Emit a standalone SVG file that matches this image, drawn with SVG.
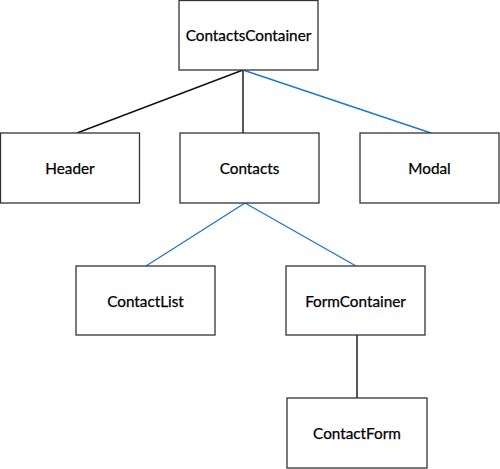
<svg xmlns="http://www.w3.org/2000/svg" width="500" height="469" viewBox="0 0 500 469">
<style>
.box rect{fill:#fff;stroke:#333;stroke-width:1.3}
.box text{font-family:Lato,"Liberation Sans",sans-serif;font-size:15.3px;fill:#000;stroke:#000;stroke-width:0.25;text-anchor:middle;dominant-baseline:central}
.k{stroke:#111;stroke-width:1.4;fill:none}
.b{stroke:#1f77c9;stroke-width:1.4;fill:none}
</style>
<rect width="500" height="469" fill="#fff"/>
<g id="connectors">
<line class="k" x1="243" y1="70" x2="77" y2="133"/>
<line class="k" x1="243" y1="70" x2="243" y2="133"/>
<line class="b" x1="243" y1="70" x2="431" y2="133"/>
<line class="b" x1="245" y1="203" x2="146" y2="266"/>
<line class="b" x1="245" y1="203" x2="356" y2="266"/>
<line class="k" x1="357" y1="335" x2="357" y2="398"/>
</g>
<g id="ContactsContainer" class="box"><rect x="179" y="0.5" width="139" height="69.5"/><text x="248.5" y="35">ContactsContainer</text></g>
<g id="Header" class="box"><rect x="0.5" y="133" width="139" height="70"/><text x="70" y="168">Header</text></g>
<g id="Contacts" class="box"><rect x="180" y="133" width="139" height="70"/><text x="249.5" y="168">Contacts</text></g>
<g id="Modal" class="box"><rect x="360" y="133" width="139" height="70"/><text x="429.5" y="168">Modal</text></g>
<g id="ContactList" class="box"><rect x="76" y="266" width="139" height="69"/><text x="145.5" y="300.5">ContactList</text></g>
<g id="FormContainer" class="box"><rect x="286" y="266" width="139" height="69"/><text x="355.5" y="300.5">FormContainer</text></g>
<g id="ContactForm" class="box"><rect x="287" y="398" width="140" height="70"/><text x="357" y="433">ContactForm</text></g>
</svg>
